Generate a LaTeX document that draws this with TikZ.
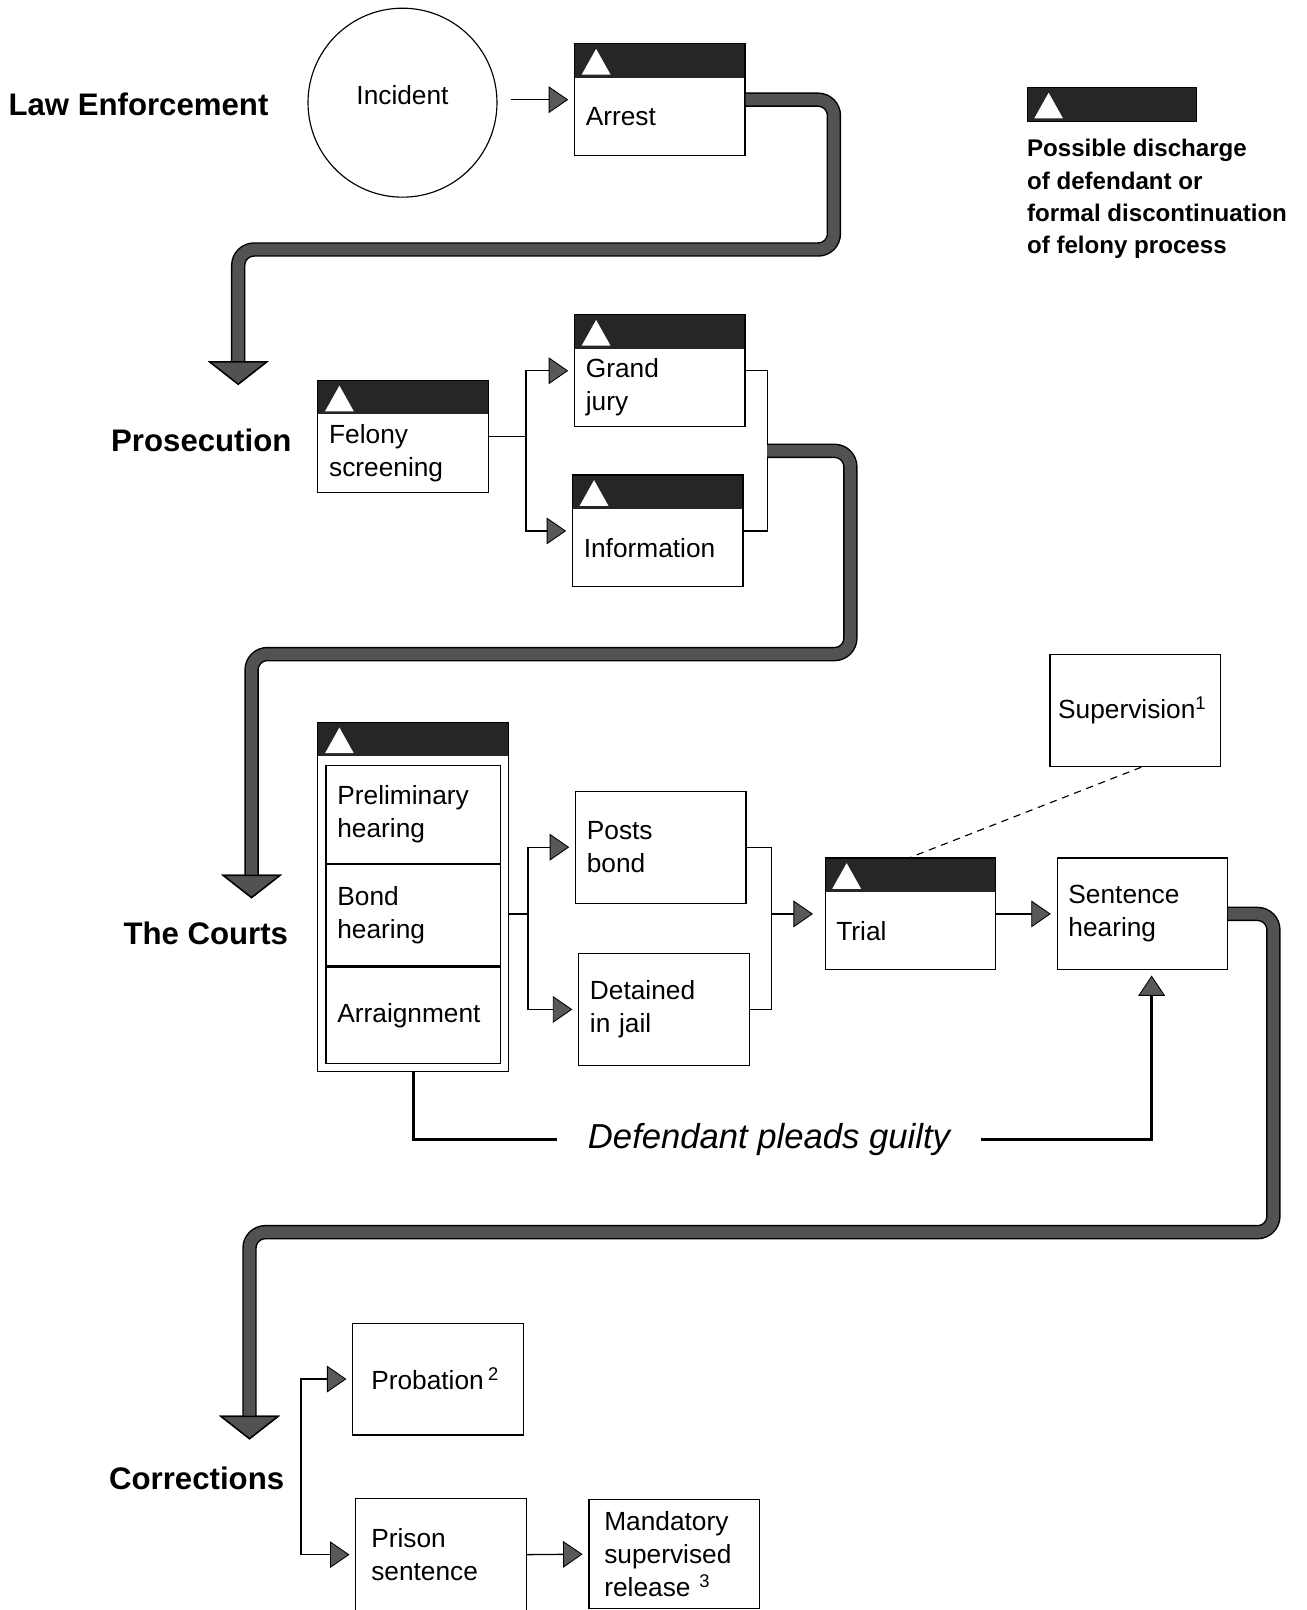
\documentclass[tikz,border=0pt]{standalone}
\usepackage{fontspec}
\setmainfont{Liberation Sans}
\usetikzlibrary{arrows.meta,calc,positioning}

\newcommand{\boxfont}{\fontsize{18.2}{22.8}\selectfont}
\newcommand{\stagefont}{\bfseries\fontsize{21.6}{26}\selectfont}
\newcommand{\keyfont}{\bfseries\fontsize{16.7}{22.3}\selectfont}
\newcommand{\pleafont}{\itshape\fontsize{24}{29}\selectfont}

\tikzset{
  box/.style={draw, line width=0.8pt, fill=white, anchor=north west,
    minimum width=4.15cm, minimum height=2.725cm, text width=3.6cm,
    inner xsep=0.275cm, inner ysep=0pt, align=left, font=\boxfont},
  flag/.style={path picture={
    \fill[black!85] (path picture bounding box.north west) rectangle
      ($(path picture bounding box.north east)+(0,33)$);
    \fill[white] ($(path picture bounding box.north west)+(7,30)$)
      -- ++(14,-25) -- ++(14,25) -- cycle;}},
  hdrbox/.style={box, flag, execute at begin node={\rule{0pt}{36.5pt}}},
  cell/.style={box, minimum width=4.25cm, text width=3.7cm},
  stage/.style={anchor=base west, inner sep=0pt, font=\stagefont},
  link/.style={draw, line width=0.9pt},
  tip/.style={-{Triangle[width=18.5pt,length=13.5pt,fill=black!65,color=black,line width=0.6pt]},
    shorten >=4pt},
  flow/.style={draw=black!68, line width=8pt, rounded corners=11pt,
    preaction={draw=black, line width=10pt},
    -{Triangle[width=42pt,length=16.5pt,fill=black!68,color=black,line width=1pt]}},
  plea/.style={draw, line width=2.2pt},
}

\begin{document}
\begin{tikzpicture}[x=0.025cm, y=-0.025cm]

\useasboundingbox (0,0) rectangle (1272,1568);

% stage names
\node[stage] (lawlbl) at (8,112) {Law Enforcement};
\node[stage] (proslbl) at (108,440) {Prosecution};
\node[stage] (courtlbl) at (120,920) {The Courts};
\node[stage] (corrlbl) at (106,1451) {Corrections};

% key
\node[draw, flag, anchor=north west, minimum width=4.125cm, minimum height=0.825cm,
  inner sep=0pt] (key) at (1000,85) {};
\node[anchor=north west, inner sep=0pt, align=left, font=\keyfont] (keynote)
  at ($(key.south west)+(0,17)$)
  {Possible discharge\\of defendant or\\formal discontinuation\\of felony process};

% law enforcement
\node[draw, circle, line width=0.8pt, minimum size=4.6cm, font=\boxfont] (incident) at (392,100)
  {\raisebox{11pt}{Incident}};
\node[hdrbox] (arrest) at (559,42) {Arrest};

\draw[link, tip, shorten <=9pt] (incident.east |- arrest.west) -- (arrest.west);

\coordinate (pros) at (232,375);
\draw[flow] (arrest.east) -- ++(86,0) |- ($(pros)+(0,-132)$) -- (pros);

% prosecution
\node[hdrbox] (felony) at (309,370) {Felony\\screening};
\node[hdrbox] (grand) at (559,306) {Grand\\jury};
\node[hdrbox] (info) at (557,462) {Information};

\coordinate (fsplit) at ($(felony.east)+(36,0)$);
\draw[link] (felony.east) -- (fsplit);
\draw[link, tip] (fsplit) |- (grand.west);
\draw[link, tip] (fsplit) |- (info.west);

\coordinate (pjoin) at ($(grand.east)!0.5!(info.east)+(22,0)$);
\draw[link] (grand.east) -| (pjoin) |- (info.east);

\coordinate (court) at (245,875);
\draw[flow] (pjoin) -- ++(81,0) |- ($(court)+(0,-238)$) -- (court);

% the courts
\node[hdrbox, minimum width=4.65cm, minimum height=8.5cm] (courts) at (309,703) {};
\node[cell, minimum height=2.375cm] (prelim) at (317,745) {Preliminary\\hearing};
\node[cell, minimum height=2.475cm] (bondh) at (prelim.south west) {Bond\\hearing};
\node[cell, minimum height=2.35cm] (arraign) at (bondh.south west) {Arraignment};

\node[box] (posts) at (560,770) {Posts\\bond};
\node[box] (jail) at (563,928) {Detained\\in jail};
\node[hdrbox] (trial) at (803,835) {Trial};
\node[box] (sentence) at (1029,835) {Sentence\\hearing};
\node[box, text width=3.75cm, inner xsep=0.2cm] (superv) at (1022,637) {Supervision\textsuperscript{1}};

\coordinate (csplit) at ($(courts.east |- trial.west)+(18,0)$);
\draw[link] (courts.east |- csplit) -- (csplit);
\draw[link, tip] (csplit) |- (posts.west);
\draw[link, tip] (csplit) |- (jail.west);

\coordinate (bjoin) at ($(jail.east |- trial.west)+(21,0)$);
\draw[link] (posts.east) -| (bjoin) |- (jail.east);
\draw[link, tip, shorten >=8pt] (bjoin) -- (trial.west);
\draw[link, tip] (trial.east) -- (sentence.west);

\draw[line width=0.8pt, dash pattern=on 5pt off 4pt] ($(superv.south)+(6,0)$) -- (trial.north);

\node[font=\pleafont, inner xsep=0.75cm] (guilty) at (749,1110) {Defendant pleads guilty};
\draw[plea] (courts.south) |- (guilty.west);
\draw[plea, -{Triangle[width=18.5pt,length=14pt,fill=black!65,color=black,line width=0.6pt]},
  shorten >=3.5pt] (guilty.east) -| ($(sentence.south)+(9,0)$);

\coordinate (corr) at (243,1402);
\draw[flow] (sentence.east) -- ++(44,0) |- ($(corr)+(0,-202)$) -- (corr);

% corrections
\node[box, text width=3.25cm, inner xsep=0.45cm] (probation) at (343,1288) {Probation\,\textsuperscript{2}};
\node[box, inner xsep=0.375cm, text width=3.4cm] (prison) at (346,1459) {Prison\\sentence};
\node[box, minimum height=2.65cm, inner xsep=0.35cm, text width=3.4cm] (mandatory) at (573,1460)
  {Mandatory\\supervised\\release \textsuperscript{3}};

\coordinate (rsplit) at (293,1428);
\draw[link, tip] (rsplit) |- (probation.west);
\draw[link, tip] (rsplit) |- (prison.west);
\draw[link, tip] (prison.east) -- (mandatory.west);

\end{tikzpicture}
\end{document}
